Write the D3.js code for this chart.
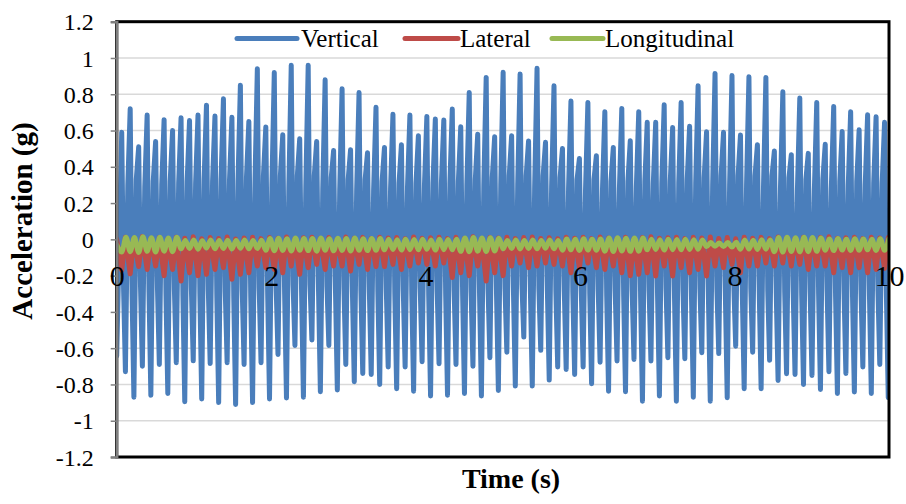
<!DOCTYPE html>
<html>
<head>
<meta charset="utf-8">
<script src="https://cdn.jsdelivr.net/npm/d3@7"></script>
<style>
  html, body { margin: 0; padding: 0; background: #fff; }
  svg { display: block; font-family: "Liberation Serif", "Times New Roman", serif; }
</style>
</head>
<body>
<svg id="chart" width="906" height="504"></svg>
<script>
// ---------------- DATA ----------------
const seriesNames = ["Vertical", "Lateral", "Longitudinal"];
const xTickValues = [0, 2, 4, 6, 8, 10];
const yTickValues = [-1.2, -1, -0.8, -0.6, -0.4, -0.2, 0, 0.2, 0.4, 0.6, 0.8, 1, 1.2];

// timing of the dominant oscillation (s)
const TIME_START = 0.065;   // first vertical peak
const PERIOD = 0.10975;     // cycle length
const TROUGH_OFFSET = 0.048;

// Vertical: start value, positive peaks, negative troughs, band values in between
const vStart = -0.643;
const vPeaks = [0.59,0.72,0.51,0.685,0.54,0.66,0.60,0.67,0.655,0.685,
  0.74,0.68,0.775,0.673,0.85,0.65,0.94,0.62,0.92,0.577,
  0.96,0.555,0.96,0.54,0.88,0.49,0.83,0.494,0.81,0.477,
  0.728,0.507,0.69,0.522,0.685,0.571,0.678,0.663,0.658,0.718,
  0.621,0.81,0.58,0.893,0.566,0.921,0.571,0.912,0.542,0.943,
  0.535,0.847,0.501,0.763,0.446,0.755,0.461,0.704,0.507,0.722,
  0.544,0.704,0.645,0.645,0.742,0.617,0.755,0.623,0.847,0.593,
  0.915,0.59,0.903,0.575,0.897,0.522,0.893,0.487,0.814,0.467,
  0.779,0.474,0.755,0.524,0.733,0.595,0.704,0.604,0.687,0.676,0.645];
const vTroughs = [-0.73,-0.87,-0.70,-0.86,-0.69,-0.85,-0.68,-0.895,-0.67,-0.88,
  -0.685,-0.90,-0.68,-0.91,-0.69,-0.90,-0.68,-0.88,-0.635,-0.875,
  -0.585,-0.87,-0.555,-0.84,-0.585,-0.83,-0.69,-0.785,-0.74,-0.745,
  -0.80,-0.704,-0.824,-0.704,-0.837,-0.675,-0.864,-0.686,-0.859,-0.69,
  -0.85,-0.70,-0.864,-0.653,-0.833,-0.622,-0.809,-0.539,-0.809,-0.612,
  -0.776,-0.704,-0.717,-0.745,-0.704,-0.796,-0.677,-0.837,-0.671,-0.84,
  -0.662,-0.892,-0.671,-0.864,-0.653,-0.892,-0.658,-0.87,-0.625,-0.892,
  -0.63,-0.873,-0.589,-0.824,-0.622,-0.824,-0.667,-0.778,-0.741,-0.745,
  -0.80,-0.75,-0.828,-0.73,-0.85,-0.739,-0.842,-0.704,-0.85,-0.69,-0.873];
const vMidA = [-0.27,-0.30,-0.26,-0.29,-0.27,-0.30,-0.28,-0.31,-0.27,-0.30,
  -0.28,-0.31,-0.29,-0.32,-0.28,-0.31,-0.27,-0.30,-0.26,-0.30,
  -0.25,-0.29,-0.25,-0.28,-0.26,-0.28,-0.27,-0.29,-0.28,-0.29,
  -0.29,-0.28,-0.30,-0.28,-0.30,-0.27,-0.31,-0.28,-0.30,-0.28,
  -0.30,-0.29,-0.31,-0.27,-0.30,-0.27,-0.29,-0.25,-0.29,-0.27,
  -0.28,-0.28,-0.29,-0.29,-0.28,-0.30,-0.28,-0.31,-0.28,-0.31,
  -0.28,-0.32,-0.28,-0.31,-0.27,-0.32,-0.28,-0.31,-0.27,-0.32,
  -0.27,-0.31,-0.26,-0.30,-0.27,-0.30,-0.28,-0.29,-0.29,-0.29,
  -0.30,-0.29,-0.30,-0.28,-0.31,-0.29,-0.31,-0.28,-0.31,-0.28,-0.31];
const vMidB = [0.30,0.33,0.29,0.32,0.30,0.32,0.31,0.32,0.31,0.33,
  0.32,0.33,0.33,0.32,0.34,0.31,0.35,0.30,0.35,0.29,
  0.35,0.29,0.35,0.28,0.34,0.27,0.33,0.27,0.33,0.27,
  0.32,0.28,0.31,0.29,0.31,0.30,0.31,0.31,0.31,0.32,
  0.30,0.33,0.30,0.34,0.30,0.35,0.30,0.35,0.29,0.35,
  0.29,0.34,0.28,0.33,0.27,0.33,0.27,0.32,0.28,0.32,
  0.29,0.32,0.31,0.31,0.32,0.31,0.33,0.31,0.34,0.30,
  0.35,0.30,0.35,0.30,0.35,0.29,0.35,0.28,0.34,0.27,
  0.33,0.27,0.33,0.28,0.32,0.30,0.32,0.30,0.31,0.31,0.31];

// Lateral: lows (at vertical peak times) and highs
const latLows = [-0.17,-0.19,-0.15,-0.166,-0.147,-0.20,-0.166,-0.23,-0.184,-0.20,
  -0.193,-0.166,-0.156,-0.22,-0.193,-0.184,-0.147,-0.156,-0.166,-0.184,
  -0.147,-0.193,-0.156,-0.138,-0.166,-0.147,-0.147,-0.175,-0.138,-0.166,-0.15,
  -0.15,-0.138,-0.166,-0.147,-0.13,-0.138,-0.147,-0.13,-0.21,
  -0.184,-0.20,-0.147,-0.23,-0.184,-0.20,-0.147,-0.13,-0.156,-0.147,
  -0.13,-0.138,-0.147,-0.184,-0.156,-0.13,-0.156,-0.166,-0.147,-0.184,-0.20,-0.193,
  -0.184,-0.202,-0.147,-0.202,-0.156,-0.184,-0.166,-0.202,-0.147,-0.156,
  -0.138,-0.184,-0.147,-0.147,-0.13,-0.147,-0.13,-0.147,-0.138,-0.166,
  -0.147,-0.147,-0.184,-0.156,-0.184,-0.156,-0.184,-0.166,-0.16];
const latHighs = [0.012,0.005,0.015,0.004,0.01,0.002,0.012,0.006,0.014,0.003,
  0.01,0.005,0.013,0.002,0.008,0.012,0.004,0.01,0.006,0.013,
  0.003,0.009,0.012,0.005,0.01,0.002,0.013,0.006,0.011,0.004,
  0.012,0.007,0.01,0.003,0.013,0.006,0.009,0.012,0.004,0.011,
  0.005,0.014,0.003,0.01,0.007,0.012,0.004,0.01,0.013,0.005,
  0.009,0.003,0.012,0.006,0.011,0.004,0.013,0.008,0.005,0.012,
  0.003,0.01,0.014,0.006,0.009,0.012,0.004,0.011,0.007,0.013,
  0.005,0.01,0.003,0.012,0.006,0.011,0.004,0.013,0.008,0.005,
  0.012,0.003,0.01,0.014,0.006,0.009,0.012,0.004,0.011,0.007,0.01];

// Longitudinal: lows and highs
const lonLows = [-0.07,-0.068,-0.072,-0.066,-0.07,-0.065,-0.068,
  -0.052,-0.05,-0.054,-0.048,-0.052,-0.05,-0.053,-0.049,-0.052,-0.05,
  -0.06,-0.063,-0.061,-0.064,-0.06,-0.062,-0.065,-0.06,-0.063,-0.061,-0.064,-0.06,-0.062,-0.06,
  -0.058,-0.056,-0.059,-0.057,-0.058,-0.055,-0.059,-0.057,-0.058,
  -0.066,-0.068,-0.065,-0.067,-0.064,
  -0.052,-0.05,-0.053,-0.05,-0.052,-0.049,-0.052,
  -0.06,-0.058,-0.061,-0.059,-0.06,
  -0.065,-0.067,-0.064,-0.066,-0.065,
  -0.058,-0.056,-0.059,-0.057,-0.058,-0.056,-0.055,
  -0.04,-0.038,-0.04,-0.042,
  -0.055,-0.053,-0.056,-0.054,
  -0.068,-0.07,-0.067,-0.069,-0.068,-0.066,
  -0.06,-0.062,-0.059,-0.061,-0.06,-0.058,-0.061,-0.06];
const lonHighs = [0.012,0.01,0.014,0.009,0.012,0.008,0.011,
  -0.006,-0.004,-0.008,-0.003,-0.006,-0.005,-0.007,-0.004,-0.006,-0.005,
  0.004,0.006,0.003,0.007,0.004,0.005,0.008,0.003,0.006,0.004,0.007,0.003,0.005,0.004,
  0.0,-0.002,0.001,-0.001,0.0,-0.003,0.001,-0.001,0.0,
  0.008,0.01,0.007,0.009,0.006,
  -0.006,-0.004,-0.007,-0.004,-0.006,-0.003,-0.006,
  0.002,0.0,0.003,0.001,0.002,
  0.007,0.009,0.006,0.008,0.007,
  0.0,-0.002,0.001,-0.001,0.0,-0.002,-0.003,
  -0.018,-0.02,-0.018,-0.016,
  -0.003,-0.005,-0.002,-0.004,
  0.01,0.012,0.009,0.011,0.01,0.008,
  0.002,0.004,0.001,0.003,0.002,0.0,0.003,0.002];

const colors = { Vertical: "#4A7EBB", Lateral: "#BE4B48", Longitudinal: "#98B954" };

// ---------------- BUILD SERIES ----------------
const nCycles = vPeaks.length;
const vertical = [{ t: 0, v: vStart }];
const lateral = [{ t: 0, v: 0.0 }];
const longitudinal = [{ t: 0, v: -0.03 }];
for (let k = 0; k < nCycles; k++) {
  const tp = TIME_START + k * PERIOD;
  vertical.push({ t: tp, v: vPeaks[k] });
  vertical.push({ t: tp + TROUGH_OFFSET / 2, v: vMidA[k] });
  vertical.push({ t: tp + TROUGH_OFFSET, v: vTroughs[k] });
  if (k < nCycles - 1) vertical.push({ t: tp + TROUGH_OFFSET + (PERIOD - TROUGH_OFFSET) / 2, v: vMidB[k] });
  lateral.push({ t: tp, v: latLows[k] });
  lateral.push({ t: tp + TROUGH_OFFSET, v: latHighs[k] });
  longitudinal.push({ t: tp, v: lonLows[k] });
  longitudinal.push({ t: tp + 0.055, v: lonHighs[k] });
}

// ---------------- LAYOUT ----------------
const svg = d3.select("#chart");
const plot = { left: 116.7, right: 889, top: 21.7, bottom: 457 };
const x = d3.scaleLinear().domain([0, 10]).range([plot.left, plot.right]);
const y = d3.scaleLinear().domain([-1.2, 1.2]).range([plot.bottom, plot.top]);

svg.append("defs").append("clipPath").attr("id", "clip")
  .append("rect").attr("x", plot.left).attr("y", plot.top)
  .attr("width", plot.right - plot.left).attr("height", plot.bottom - plot.top);

// gridlines
svg.append("g").selectAll("line")
  .data(yTickValues.filter(d => d > -1.2 && d < 1.2))
  .join("line")
  .attr("x1", plot.left).attr("x2", plot.right)
  .attr("y1", d => y(d)).attr("y2", d => y(d))
  .attr("stroke", "#d9d9d9").attr("stroke-width", 1.5);

// series
const line = d3.line().x(d => x(d.t)).y(d => y(d.v));
const smooth = d3.line().x(d => x(d.t)).y(d => y(d.v)).curve(d3.curveMonotoneX);
const g = svg.append("g").attr("clip-path", "url(#clip)");
const common = p => p.attr("fill", "none").attr("stroke-width", 5)
  .attr("stroke-linejoin", "round").attr("stroke-linecap", "round");
g.append("path").datum(vertical).attr("d", line).attr("stroke", colors.Vertical).call(common);
g.append("path").datum(lateral).attr("d", line).attr("stroke", colors.Lateral).call(common);
g.append("path").datum(longitudinal).attr("d", smooth).attr("stroke", colors.Longitudinal).call(common);

// plot border (black) and left value axis (grey)
svg.append("rect").attr("x", plot.left).attr("y", plot.top)
  .attr("width", plot.right - plot.left).attr("height", plot.bottom - plot.top)
  .attr("fill", "none").attr("stroke", "#000").attr("stroke-width", 3);

const yAxis = d3.axisLeft(y).tickValues(yTickValues).tickSize(6).tickPadding(17)
  .tickFormat(d => d === 0 ? "0" : String(+d.toFixed(1)));
const ya = svg.append("g").attr("transform", `translate(${plot.left},0)`).call(yAxis);
ya.select(".domain").attr("stroke", "#7f7f7f").attr("stroke-width", 2.5);
ya.selectAll(".tick line").attr("stroke", "#7f7f7f").attr("stroke-width", 1.5);
ya.selectAll(".tick text").attr("font-family", "Liberation Serif").attr("font-size", 24)
  .attr("fill", "#000").attr("dy", "0.34em");

// x tick labels sit next to the zero line
const xAxis = d3.axisBottom(x).tickValues(xTickValues).tickSize(0).tickPadding(0);
const xa = svg.append("g").attr("transform", `translate(0,${y(0)})`).call(xAxis);
xa.select(".domain").remove();
xa.selectAll(".tick text").attr("font-family", "Liberation Serif").attr("font-size", 30)
  .attr("fill", "#000").attr("dy", null).attr("y", 47);

// axis titles
svg.append("text").attr("x", 511).attr("y", 488).attr("text-anchor", "middle")
  .attr("font-weight", "bold").attr("font-size", 28).attr("fill", "#000").text("Time (s)");
svg.append("text").attr("transform", "translate(32,221) rotate(-90)").attr("text-anchor", "middle")
  .attr("font-weight", "bold").attr("font-size", 29).attr("fill", "#000").text("Acceleration (g)");

// legend
const legendItems = [
  { name: seriesNames[0], x1: 237, x2: 297, tx: 301 },
  { name: seriesNames[1], x1: 405, x2: 458, tx: 460 },
  { name: seriesNames[2], x1: 552, x2: 603, tx: 605 }
];
const lg = svg.append("g");
lg.selectAll("line").data(legendItems).join("line")
  .attr("x1", d => d.x1).attr("x2", d => d.x2).attr("y1", 38.5).attr("y2", 38.5)
  .attr("stroke", d => colors[d.name]).attr("stroke-width", 5).attr("stroke-linecap", "round");
lg.selectAll("text").data(legendItems).join("text")
  .attr("x", d => d.tx).attr("y", 47).attr("font-size", 25).attr("fill", "#000")
  .text(d => d.name);
</script>
</body>
</html>
